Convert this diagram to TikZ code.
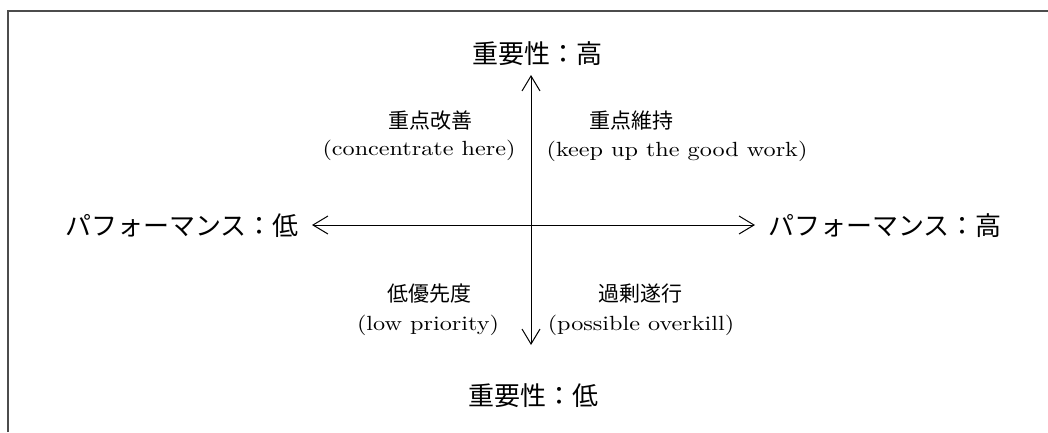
\documentclass[tikz,border=0pt]{standalone}
\usepackage{fontspec}
\newfontfamily\jp{Noto Sans CJK JP}
\newfontfamily\lat{lmroman10-regular.otf}[FakeStretch=1.18]
\usetikzlibrary{arrows.meta}
\tikzset{
  big/.style={inner sep=0pt, font=\jp\fontsize{26}{30}\selectfont},
  quadjp/.style={inner sep=0pt, font=\jp\fontsize{21}{25}\selectfont},
  quaden/.style={inner sep=0pt, font=\lat\fontsize{20.5}{24}\selectfont},
  axis/.style={line width=1pt, {Straight Barb[length=15pt,width=18pt]}-{Straight Barb[length=15pt,width=18pt]}},
  frame/.style={line width=1.5pt, draw=black!70}
}
\begin{document}
\begin{tikzpicture}[x=1pt,y=-1pt]
\useasboundingbox (0,0) rectangle (1048,432);
\draw[frame] (8,432) -- (8,11) -- (1048,11);
% axis end points
\coordinate (L) at (312,225);
\coordinate (R) at (755,225);
\coordinate (T) at (531,75);
\coordinate (B) at (531,345);
\draw[axis] (L) -- (R);
\draw[axis] (B) -- (T);
% axis labels
\node[big] (top) at (537,54) {重要性：高};
\node[big] (bot) at (533,396) {重要性：低};
\node[big] (left) at (182,226) {パフォーマンス：低};
\node[big] (right) at (885,226) {パフォーマンス：高};
% quadrants
\node[quadjp] (q1j) at (430,121) {重点改善};
\node[quaden] (q1e) at (419,150) {(concentrate here)};
\node[quadjp] (q2j) at (631,121) {重点維持};
\node[quaden] (q2e) at (677,151) {(keep up the good work)};
\node[quadjp] (q3j) at (429,294) {低優先度};
\node[quaden] (q3e) at (428,325) {(low priority)};
\node[quadjp] (q4j) at (640,294) {過剰遂行};
\node[quaden] (q4e) at (641,325) {(possible overkill)};
\end{tikzpicture}
\end{document}
